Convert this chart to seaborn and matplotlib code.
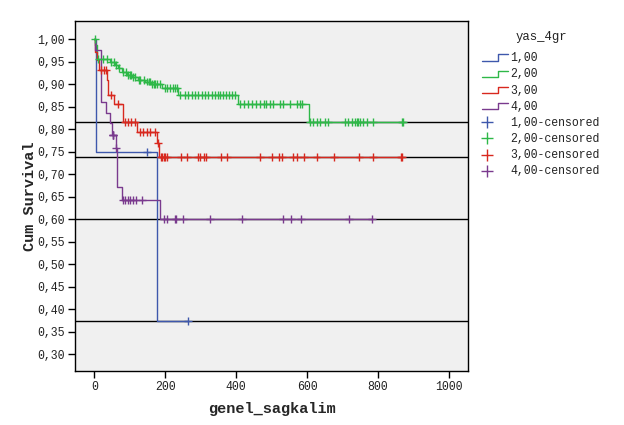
import numpy as np
import pandas as pd
import matplotlib
matplotlib.use("Agg")
import matplotlib.pyplot as plt
import seaborn as sns
from matplotlib.legend_handler import HandlerBase
from matplotlib.lines import Line2D

# ---------------- data (Kaplan-Meier steps) ----------------
groups = ["1,00", "2,00", "3,00", "4,00"]

blue_t = [0, 5, 177, 265]
blue_s = [1.0, 0.75, 0.375, 0.375]
blue_cens = [148, 265]

green_t = [0, 3, 8, 45, 58, 67, 78, 92, 106, 123, 143, 160, 192, 237, 405, 605, 872]
green_s = [1.0, 0.987, 0.957, 0.950, 0.943, 0.936, 0.928, 0.921, 0.917, 0.910,
           0.906, 0.900, 0.891, 0.876, 0.856, 0.816, 0.816]
green_cens = [2, 12, 25, 35, 48, 55, 62, 70, 82, 90, 95, 100, 105, 110, 115, 125,
              130, 140, 150, 155, 158, 162, 168, 172, 178, 185, 200, 205, 215, 222,
              228, 233, 242, 256, 264, 275, 284, 292, 304, 312, 321, 332, 340, 349,
              355, 363, 372, 380, 389, 398, 412, 423, 434, 445, 456, 468, 479, 485,
              496, 504, 524, 533, 553, 572, 581, 587, 609, 617, 629, 637, 651, 659,
              707, 716, 727, 736, 741, 744, 750, 758, 769, 786, 868, 871]

red_t = [0, 3, 8, 14, 35, 40, 56, 80, 122, 178, 183, 867]
red_s = [1.0, 0.972, 0.954, 0.932, 0.910, 0.876, 0.856, 0.816, 0.794, 0.769, 0.738, 0.738]
red_cens = [20, 28, 33, 48, 68, 87, 96, 105, 115, 129, 139, 148, 157, 171, 180, 187,
            192, 197, 201, 206, 244, 262, 293, 298, 310, 315, 357, 375, 468, 500,
            522, 529, 560, 573, 592, 627, 677, 748, 787, 865, 867]

purple_t = [0, 1, 20, 33, 44, 50, 61, 63, 77, 185, 783]
purple_s = [1.0, 0.976, 0.860, 0.836, 0.813, 0.787, 0.759, 0.672, 0.643, 0.600, 0.600]
purple_cens = [52, 53, 54, 62, 80, 87, 96, 101, 110, 118, 134, 197, 206, 228, 231,
               251, 326, 418, 532, 555, 582, 719, 783]

colors = ["#3E58AC", "#2EB848", "#D8281E", "#7A3A8E"]

y_ticks = [0.30, 0.35, 0.40, 0.45, 0.50, 0.55, 0.60, 0.65, 0.70, 0.75, 0.80, 0.85, 0.90, 0.95, 1.00]
x_ticks = [0, 200, 400, 600, 800, 1000]

# ---------------- tables ----------------
steps = [(blue_t, blue_s, blue_cens), (green_t, green_s, green_cens),
         (red_t, red_s, red_cens), (purple_t, purple_s, purple_cens)]
curve_rows, cens_rows = [], []
for g, (t, s, c) in zip(groups, steps):
    for i, (ti, si) in enumerate(zip(t, s)):
        curve_rows.append({"group": g, "time": ti, "surv": si, "order": i})
    t_arr = np.asarray(t)
    for ci in c:
        idx = np.searchsorted(t_arr, ci, side="right") - 1
        cens_rows.append({"group": g, "time": ci, "surv": s[idx]})
curve_df = pd.DataFrame(curve_rows)
cens_df = pd.DataFrame(cens_rows)
palette = dict(zip(groups, colors))

# ---------------- figure ----------------
sns.set_theme(style="white")
plt.rcParams["font.family"] = ["Liberation Mono", "DejaVu Sans Mono"]

fig = plt.figure(figsize=(6.24, 4.25), dpi=100)
ax = fig.add_axes([0.1197, 0.127, 0.6308, 0.823])
ax.set_facecolor("#F0F0F0")

for s in [green_s, red_s, purple_s, blue_s]:
    ax.axhline(s[-1], color="black", lw=1.0, zorder=1)

sns.lineplot(data=curve_df, x="time", y="surv", hue="group", palette=palette,
             estimator=None, sort=False, drawstyle="steps-post", lw=1.0,
             legend=False, ax=ax, zorder=2)
sns.scatterplot(data=cens_df, x="time", y="surv", hue="group", palette=palette,
                marker="+", s=32, linewidth=1.0, legend=False, ax=ax, zorder=3)

ax.set_xlim(-55, 1055)
ax.set_ylim(0.263, 1.04)
ax.set_xticks(x_ticks)
ax.set_xticklabels([str(v) for v in x_ticks])
ax.set_yticks(y_ticks)
ax.set_yticklabels([f"{v:.2f}".replace(".", ",") for v in y_ticks])
ax.tick_params(axis="both", direction="out", length=5, width=1, color="black",
               labelsize=8.3, labelcolor="#222222", pad=2, bottom=True, left=True)
for sp in ax.spines.values():
    sp.set_color("black")
    sp.set_linewidth(1.0)
    sp.set_visible(True)

ax.set_xlabel("genel_sagkalim", fontsize=11, fontweight="bold", labelpad=7)
ax.set_ylabel("Cum Survival", fontsize=11, fontweight="bold", labelpad=0.5)


# ---------------- legend ----------------
class StepHandler(HandlerBase):
    def create_artists(self, legend, orig_handle, xdescent, ydescent, width, height,
                       fontsize, trans):
        x0 = -xdescent
        y0 = -ydescent
        xs = [x0, x0 + width * 0.62, x0 + width * 0.62, x0 + width]
        ys = [y0 + height * 0.05, y0 + height * 0.05, y0 + height * 0.85, y0 + height * 0.85]
        ln = Line2D(xs, ys, color=orig_handle.get_color(), lw=1.0)
        ln.set_transform(trans)
        return [ln]


class PlusHandler(HandlerBase):
    def create_artists(self, legend, orig_handle, xdescent, ydescent, width, height,
                       fontsize, trans):
        ln = Line2D([-xdescent + width * 0.2], [-ydescent + height * 0.45],
                    marker="+", markersize=8, mew=1.0, linestyle="none",
                    color=orig_handle.get_color())
        ln.set_transform(trans)
        return [ln]


step_handles = [Line2D([], [], color=c) for c in colors]
plus_handles = [Line2D([], [], color=c, marker="+") for c in colors]
handler_map = {h: StepHandler() for h in step_handles}
handler_map.update({h: PlusHandler() for h in plus_handles})
labels = groups + [g + "-censored" for g in groups]

fig.text(541 / 624, 1 - 37 / 425, "yas_4gr", ha="center", va="center",
         fontsize=8.8, color="#222222")
leg = fig.legend(step_handles + plus_handles, labels, handler_map=handler_map,
                 loc="upper left", bbox_to_anchor=(480 / 624, 1 - 50 / 425),
                 frameon=False, fontsize=8.3, labelcolor="#222222",
                 handlelength=2.2, handletextpad=0.25,
                 labelspacing=0.36, borderaxespad=0, borderpad=0.2)

fig.savefig("out.png", dpi=100, facecolor="white")
